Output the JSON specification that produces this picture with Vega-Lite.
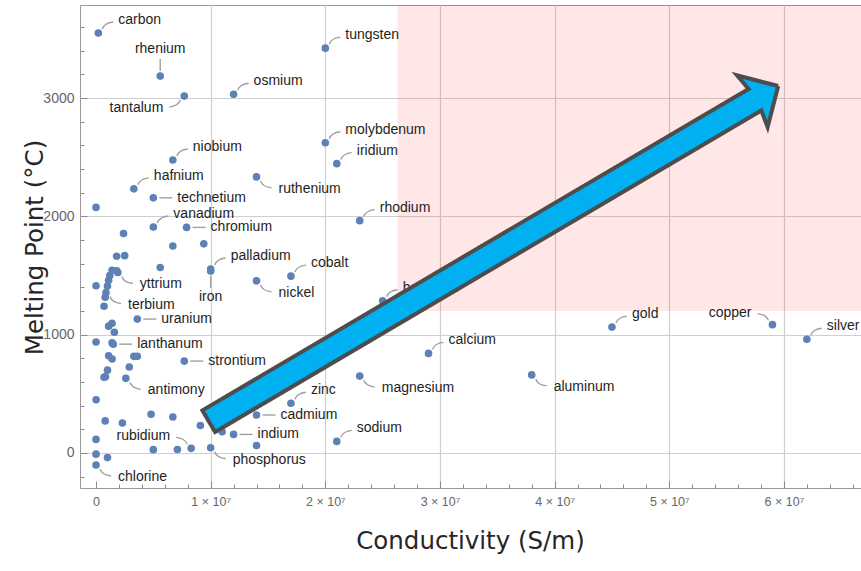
{
  "$schema": "https://vega.github.io/schema/vega-lite/v6.json",
  "width": 782,
  "height": 483,
  "autosize": {"type": "none"},
  "padding": {"left": 80, "top": 5, "right": 0, "bottom": 83},
  "background": "white",
  "config": {
    "view": {"stroke": "#9a9a9a", "strokeWidth": 1},
    "axis": {"domain": false, "grid": true, "gridColor": "#cfcfcf", "gridWidth": 1.2, "tickColor": "#8a8a8a", "labelColor": "#666666", "labelFont": "Liberation Sans", "labelOverlap": false, "labelFlush": false, "tickCount": 200, "titleFont": "DejaVu Sans", "titleFontWeight": "normal", "titleFontSize": 24.5, "titleColor": "#262626"},
    "axisX": {"labelFontSize": 12.5},
    "axisY": {"labelFontSize": 14}
  },
  "datasets": {
    "pts": [
      {"name": "carbon", "c": 200000, "m": 3550, "dir": "ur"},
      {"name": "rhenium", "c": 5600000, "m": 3186, "dir": "u"},
      {"name": "tantalum", "c": 7700000, "m": 3017, "dir": "dl"},
      {"name": "osmium", "c": 12000000, "m": 3033, "dir": "ur"},
      {"name": "tungsten", "c": 20000000, "m": 3422, "dir": "ur"},
      {"name": "molybdenum", "c": 20000000, "m": 2623, "dir": "ur"},
      {"name": "iridium", "c": 21000000, "m": 2446, "dir": "ur"},
      {"name": "niobium", "c": 6700000, "m": 2477, "dir": "ur"},
      {"name": "hafnium", "c": 3300000, "m": 2233, "dir": "ur"},
      {"name": "ruthenium", "c": 14000000, "m": 2334, "dir": "dr"},
      {"name": "technetium", "c": 5000000, "m": 2157, "dir": "r"},
      {"name": "vanadium", "c": 5000000, "m": 1910, "dir": "ur"},
      {"name": "chromium", "c": 7900000, "m": 1907, "dir": "r"},
      {"name": "rhodium", "c": 23000000, "m": 1964, "dir": "ur"},
      {"name": "palladium", "c": 10000000, "m": 1555, "dir": "ur"},
      {"name": "iron", "c": 10000000, "m": 1538, "dir": "d"},
      {"name": "cobalt", "c": 17000000, "m": 1495, "dir": "ur"},
      {"name": "nickel", "c": 14000000, "m": 1455, "dir": "dr"},
      {"name": "yttrium", "c": 1900000, "m": 1526, "dir": "dr"},
      {"name": "terbium", "c": 870000, "m": 1356, "dir": "dr"},
      {"name": "uranium", "c": 3600000, "m": 1132, "dir": "r"},
      {"name": "lanthanum", "c": 1500000, "m": 920, "dir": "r"},
      {"name": "strontium", "c": 7700000, "m": 777, "dir": "r"},
      {"name": "antimony", "c": 2600000, "m": 631, "dir": "dr"},
      {"name": "zinc", "c": 17000000, "m": 420, "dir": "ur"},
      {"name": "cadmium", "c": 14000000, "m": 321, "dir": "r"},
      {"name": "indium", "c": 12000000, "m": 157, "dir": "r"},
      {"name": "sodium", "c": 21000000, "m": 98, "dir": "ur"},
      {"name": "rubidium", "c": 8300000, "m": 39, "dir": "ul"},
      {"name": "phosphorus", "c": 10000000, "m": 44, "dir": "dr"},
      {"name": "chlorine", "c": 0, "m": -102, "dir": "dr"},
      {"name": "beryllium", "c": 25000000, "m": 1287, "dir": "ur"},
      {"name": "calcium", "c": 29000000, "m": 842, "dir": "ur"},
      {"name": "magnesium", "c": 23000000, "m": 650, "dir": "dr"},
      {"name": "aluminum", "c": 38000000, "m": 660, "dir": "dr"},
      {"name": "gold", "c": 45000000, "m": 1064, "dir": "ur"},
      {"name": "copper", "c": 59000000, "m": 1085, "dir": "ul"},
      {"name": "silver", "c": 62000000, "m": 962, "dir": "ur"},
      {"name": "boron", "c": 0, "m": 2076, "dir": "none"},
      {"name": "zirconium", "c": 2400000, "m": 1855, "dir": "none"},
      {"name": "thorium", "c": 6700000, "m": 1750, "dir": "none"},
      {"name": "platinum", "c": 9400000, "m": 1768, "dir": "none"},
      {"name": "lutetium", "c": 1800000, "m": 1663, "dir": "none"},
      {"name": "titanium", "c": 2500000, "m": 1668, "dir": "none"},
      {"name": "protactinium", "c": 5600000, "m": 1568, "dir": "none"},
      {"name": "thulium", "c": 1400000, "m": 1545, "dir": "none"},
      {"name": "scandium", "c": 1800000, "m": 1541, "dir": "none"},
      {"name": "erbium", "c": 1200000, "m": 1500, "dir": "none"},
      {"name": "holmium", "c": 1100000, "m": 1460, "dir": "none"},
      {"name": "dysprosium", "c": 1000000, "m": 1412, "dir": "none"},
      {"name": "gadolinium", "c": 800000, "m": 1316, "dir": "none"},
      {"name": "manganese", "c": 700000, "m": 1240, "dir": "none"},
      {"name": "silicon", "c": 1000, "m": 1414, "dir": "none"},
      {"name": "samarium", "c": 1100000, "m": 1072, "dir": "none"},
      {"name": "promethium", "c": 1400000, "m": 1096, "dir": "none"},
      {"name": "neodymium", "c": 1600000, "m": 1021, "dir": "none"},
      {"name": "germanium", "c": 2000, "m": 938, "dir": "none"},
      {"name": "praseodymium", "c": 1400000, "m": 931, "dir": "none"},
      {"name": "europium", "c": 1100000, "m": 822, "dir": "none"},
      {"name": "cerium", "c": 1400000, "m": 795, "dir": "none"},
      {"name": "arsenic", "c": 3300000, "m": 817, "dir": "none"},
      {"name": "ytterbium", "c": 3600000, "m": 817, "dir": "none"},
      {"name": "barium", "c": 2900000, "m": 727, "dir": "none"},
      {"name": "radium", "c": 1000000, "m": 700, "dir": "none"},
      {"name": "neptunium", "c": 820000, "m": 644, "dir": "none"},
      {"name": "plutonium", "c": 700000, "m": 640, "dir": "none"},
      {"name": "tellurium", "c": 10000, "m": 450, "dir": "none"},
      {"name": "lead", "c": 4800000, "m": 327, "dir": "none"},
      {"name": "thallium", "c": 6700000, "m": 304, "dir": "none"},
      {"name": "bismuth", "c": 800000, "m": 271, "dir": "none"},
      {"name": "polonium", "c": 2300000, "m": 254, "dir": "none"},
      {"name": "tin", "c": 9100000, "m": 232, "dir": "none"},
      {"name": "lithium", "c": 11000000, "m": 180, "dir": "none"},
      {"name": "potassium", "c": 14000000, "m": 63, "dir": "none"},
      {"name": "sulfur", "c": 0, "m": 115, "dir": "none"},
      {"name": "cesium", "c": 5000000, "m": 28, "dir": "none"},
      {"name": "gallium", "c": 7100000, "m": 30, "dir": "none"},
      {"name": "bromine", "c": 0, "m": -10, "dir": "none"},
      {"name": "mercury", "c": 1000000, "m": -39, "dir": "none"}
    ],
    "zone": [{"x1": 26300000, "x2": 70000000, "y1": 1200, "y2": 4000}],
    "arrow": [
      {"o": 1, "x": 59500000, "y": 3102},
      {"o": 2, "x": 55910000, "y": 3192},
      {"o": 3, "x": 56920000, "y": 3078},
      {"o": 4, "x": 9280000, "y": 360},
      {"o": 5, "x": 10390000, "y": 178},
      {"o": 6, "x": 58030000, "y": 2895},
      {"o": 7, "x": 58580000, "y": 2755},
      {"o": 8, "x": 59500000, "y": 3102}
    ]
  },
  "layer": [
    {
      "data": {"name": "zone"},
      "mark": {"type": "rect", "fill": "#ff2020", "opacity": 0.11, "clip": true},
      "encoding": {
        "x": {"field": "x1", "type": "quantitative",
          "scale": {"domain": [-1397000, 66810000], "nice": false, "zero": false},
          "axis": {
            "title": "Conductivity (S/m)",
            "values": [0, 2000000, 4000000, 6000000, 8000000, 10000000, 12000000, 14000000, 16000000, 18000000, 20000000, 22000000, 24000000, 26000000, 28000000, 30000000, 32000000, 34000000, 36000000, 38000000, 40000000, 42000000, 44000000, 46000000, 48000000, 50000000, 52000000, 54000000, 56000000, 58000000, 60000000, 62000000, 64000000, 66000000],
            "tickCount": 200,
            "labelExpr": "datum.value % 10000000 === 0 ? (datum.value === 0 ? '0' : (datum.value / 10000000) + ' × 10⁷') : ''",
            "tickSize": {"condition": {"test": "datum.value % 10000000 === 0", "value": -7}, "value": -4},
            "gridOpacity": {"condition": {"test": "datum.value % 10000000 === 0 && datum.value !== 0", "value": 1}, "value": 0},
            "labelPadding": 14,
            "titleX": 390, "titleY": 53, "titleBaseline": "middle", "titleAnchor": "middle"
          }},
        "x2": {"field": "x2"},
        "y": {"field": "y1", "type": "quantitative",
          "scale": {"domain": [-296, 3787], "nice": false, "zero": false},
          "axis": {
            "title": "Melting Point (°C)",
            "values": [-200, 0, 200, 400, 600, 800, 1000, 1200, 1400, 1600, 1800, 2000, 2200, 2400, 2600, 2800, 3000, 3200, 3400, 3600],
            "tickCount": 200,
            "format": "d",
            "labelExpr": "datum.value % 1000 === 0 ? datum.label : ''",
            "tickSize": {"condition": {"test": "datum.value % 1000 === 0", "value": -7}, "value": -4},
            "gridOpacity": {"condition": {"test": "datum.value % 1000 === 0", "value": 1}, "value": 0},
            "labelPadding": 13,
            "titleX": -45, "titleY": 242, "titleBaseline": "middle", "titleAnchor": "middle", "titleAngle": -90
          }},
        "y2": {"field": "y2"}
      }
    },
    {
      "data": {"name": "pts"},
      "mark": {"type": "point", "filled": true, "size": 58, "opacity": 1, "color": "#5e81b5"},
      "encoding": {
        "x": {"field": "c", "type": "quantitative"},
        "y": {"field": "m", "type": "quantitative"}
      }
    },
    {
      "data": {"name": "pts"},
      "transform": [{"filter": "datum.dir !== 'none'"}],
      "mark": {"type": "point", "filled": false, "size": 4, "stroke": "#a0a0a0", "strokeWidth": 1.4, "opacity": 1},
      "encoding": {
        "x": {"field": "c", "type": "quantitative"},
        "y": {"field": "m", "type": "quantitative"},
        "shape": {"field": "dir", "type": "nominal", "legend": null,
          "scale": {"domain": ["ur", "r", "dr", "dl", "ul", "u", "d"],
            "range": ["M4,-4Q6,-10 15,-11", "M6,0L19,0", "M4,4Q6,10 15,11", "M-4,4Q-6,10 -15,11", "M-4,-4Q-6,-10 -15,-11", "M0,-5L0,-17", "M0,5L0,17"]}}
      }
    },
    {
      "data": {"name": "pts"},
      "transform": [{"filter": "datum.dir === 'ur'"}],
      "mark": {"type": "text", "align": "left", "baseline": "middle", "dx": 20, "dy": -13, "font": "Liberation Sans", "fontSize": 14, "color": "#1e1e1e"},
      "encoding": {"x": {"field": "c", "type": "quantitative"}, "y": {"field": "m", "type": "quantitative"}, "text": {"field": "name"}}
    },
    {
      "data": {"name": "pts"},
      "transform": [{"filter": "datum.dir === 'r'"}],
      "mark": {"type": "text", "align": "left", "baseline": "middle", "dx": 24, "dy": 0, "font": "Liberation Sans", "fontSize": 14, "color": "#1e1e1e"},
      "encoding": {"x": {"field": "c", "type": "quantitative"}, "y": {"field": "m", "type": "quantitative"}, "text": {"field": "name"}}
    },
    {
      "data": {"name": "pts"},
      "transform": [{"filter": "datum.dir === 'dr'"}],
      "mark": {"type": "text", "align": "left", "baseline": "middle", "dx": 22, "dy": 12, "font": "Liberation Sans", "fontSize": 14, "color": "#1e1e1e"},
      "encoding": {"x": {"field": "c", "type": "quantitative"}, "y": {"field": "m", "type": "quantitative"}, "text": {"field": "name"}}
    },
    {
      "data": {"name": "pts"},
      "transform": [{"filter": "datum.dir === 'dl'"}],
      "mark": {"type": "text", "align": "right", "baseline": "middle", "dx": -21, "dy": 12, "font": "Liberation Sans", "fontSize": 14, "color": "#1e1e1e"},
      "encoding": {"x": {"field": "c", "type": "quantitative"}, "y": {"field": "m", "type": "quantitative"}, "text": {"field": "name"}}
    },
    {
      "data": {"name": "pts"},
      "transform": [{"filter": "datum.dir === 'ul'"}],
      "mark": {"type": "text", "align": "right", "baseline": "middle", "dx": -21, "dy": -12, "font": "Liberation Sans", "fontSize": 14, "color": "#1e1e1e"},
      "encoding": {"x": {"field": "c", "type": "quantitative"}, "y": {"field": "m", "type": "quantitative"}, "text": {"field": "name"}}
    },
    {
      "data": {"name": "pts"},
      "transform": [{"filter": "datum.dir === 'u'"}],
      "mark": {"type": "text", "align": "center", "baseline": "middle", "dy": -27, "font": "Liberation Sans", "fontSize": 14, "color": "#1e1e1e"},
      "encoding": {"x": {"field": "c", "type": "quantitative"}, "y": {"field": "m", "type": "quantitative"}, "text": {"field": "name"}}
    },
    {
      "data": {"name": "pts"},
      "transform": [{"filter": "datum.dir === 'd'"}],
      "mark": {"type": "text", "align": "center", "baseline": "middle", "dy": 26, "font": "Liberation Sans", "fontSize": 14, "color": "#1e1e1e"},
      "encoding": {"x": {"field": "c", "type": "quantitative"}, "y": {"field": "m", "type": "quantitative"}, "text": {"field": "name"}}
    },
    {
      "data": {"name": "arrow"},
      "mark": {"type": "line", "fill": "#00b0f0", "stroke": "#4d4d4d", "strokeWidth": 4, "strokeJoin": "miter", "strokeMiterLimit": 10, "clip": false},
      "encoding": {
        "x": {"field": "x", "type": "quantitative"},
        "y": {"field": "y", "type": "quantitative"},
        "order": {"field": "o", "type": "quantitative"}
      }
    }
  ]
}
